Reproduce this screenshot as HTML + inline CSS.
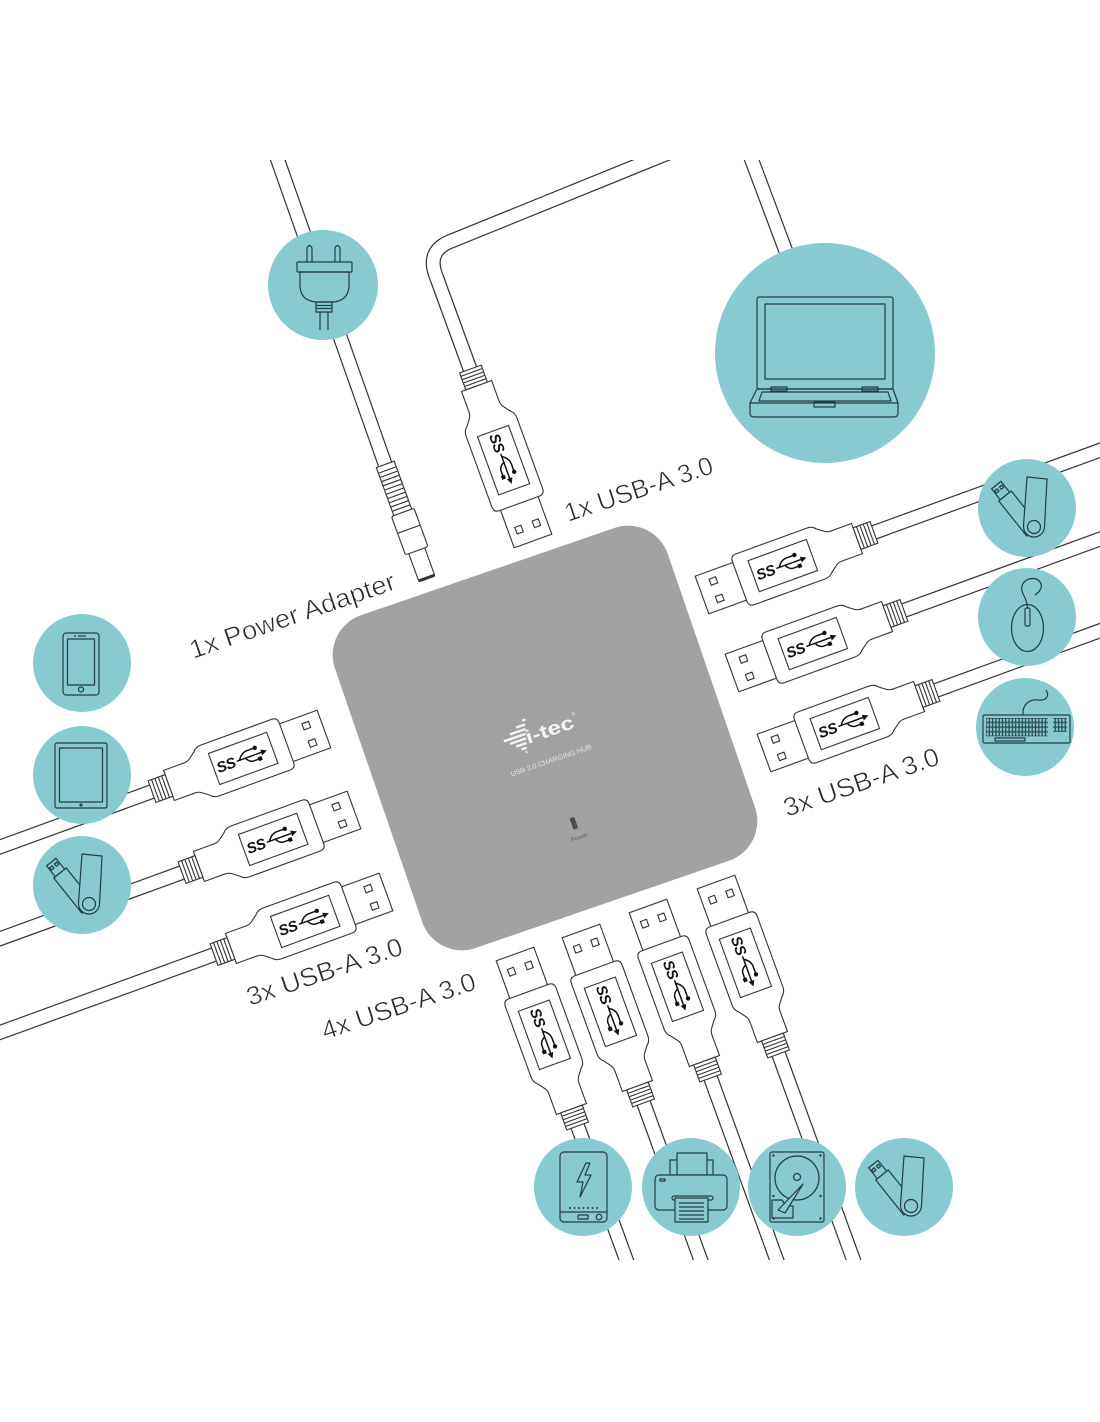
<!DOCTYPE html>
<html><head><meta charset="utf-8"><style>
html,body{margin:0;padding:0;background:#fff;}
svg{display:block;}
.lbl{font-family:"Liberation Sans",sans-serif;font-size:26px;fill:#2a2a2a;stroke:#fff;stroke-width:0.6px;}
.ss{font-family:"Liberation Sans",sans-serif;font-size:15px;font-weight:bold;font-style:italic;fill:#111;letter-spacing:-0.5px;}
</style></head><body>
<svg width="1100" height="1422" viewBox="0 0 1100 1422" xmlns="http://www.w3.org/2000/svg">
<defs>
 <clipPath id="clipc"><rect x="0" y="160" width="1100" height="1100"/></clipPath>
 <g id="plug" fill="#fff" stroke="#333" stroke-width="1.1">
   <rect x="0" y="-20" width="41" height="40"/>
   <rect x="12" y="-12.5" width="7" height="6.5"/>
   <rect x="12" y="6" width="7" height="6.5"/>
   <path d="M46,-27 H121 Q127,-27 130,-23 L136,-18.5 Q139,-16 143,-16 H165 V16 H143 Q139,16 136,18.5 L130,23 Q127,27 121,27 H46 Q40,27 40,21 V-21 Q40,-27 46,-27 Z"/>
   <rect x="55" y="-16.5" width="62" height="33"/>
   <rect x="165" y="-11.5" width="18" height="23"/>
   <path d="M168.6,-11.5V11.5M172.2,-11.5V11.5M175.8,-11.5V11.5M179.4,-11.5V11.5" fill="none"/>
 </g>
 <g id="tri">
   <path d="M-7,0.5 H20 M-4,0.5 Q0,-6 6,-6 H13 M2,0.5 Q5,6 9,6 H15" fill="none" stroke="#111" stroke-width="1.5"/>
   <circle cx="14.5" cy="-6" r="2.2" fill="#111"/>
   <rect x="14" y="4" width="4" height="4" fill="#111"/>
   <path d="M25,0.5 L19,-2.5 L19,3.5 Z" fill="#111"/>
 </g>
 <g id="dc" fill="#fff" stroke="#333" stroke-width="1.1">
   <rect x="0" y="-8.5" width="31" height="17" rx="1.5"/>
   <rect x="30" y="-12" width="41" height="24" rx="2"/>
   <path d="M53,-12 V12" fill="none"/>
   <rect x="71" y="-9.5" width="51" height="19"/>
   <path d="M75.5,-9.5V9.5M80,-9.5V9.5M84.5,-9.5V9.5M89,-9.5V9.5M93.5,-9.5V9.5M98,-9.5V9.5M102.5,-9.5V9.5M107,-9.5V9.5M111.5,-9.5V9.5M116,-9.5V9.5" fill="none"/>
   <path d="M1.2,-8.5 V8.5" stroke-width="2.6" fill="none"/>
 </g>
 <g id="flash" stroke="#213f44" stroke-width="1.2" fill="#87cbd1">
   <polygon points="-26.7,-10.25 -17.3,-17.75 -26.1,-28.65 -35.4,-21.1"/>
   <g transform="translate(-27.5,-20.5) rotate(51.3)" fill="none"><rect x="-2" y="-4.5" width="3" height="3"/><rect x="-2" y="1.5" width="3" height="3"/></g>
   <polygon points="-28.25,-9 -15.75,-19 12.25,16 -0.25,26"/>
   <path d="M0,-33 L20,-31 L17.5,17 A10.5,10.5 0 0 1 -3.5,16 Z"/>
   <circle cx="7" cy="17" r="6.5"/>
 </g>
 <pattern id="kp" x="986" y="718" width="3.3" height="4.6" patternUnits="userSpaceOnUse"><rect x="0.3" y="0.3" width="2.7" height="3.8" fill="none" stroke="#213f44" stroke-width="0.6"/></pattern>
</defs>

<rect width="1100" height="1422" fill="#fff"/>

<!-- cables -->
<g clip-path="url(#clipc)" fill="none" stroke-linejoin="round">
 <g stroke="#333" stroke-width="15">
  <path d="M470,369 L435.5,274.5 Q427,251 450,241.6 L720,132"/>
  <path d="M385,464 L276,155"/>
  <path d="M748,150 L806,305"/>
  <path d="M874,532.4 L1120,443"/>
  <path d="M904,610.4 L1120,531.8"/>
  <path d="M936,690.4 L1120,623.5"/>
  <path d="M152,791.6 L-20,854.2"/>
  <path d="M182,872.6 L-20,946"/>
  <path d="M214,954.6 L-20,1039.7"/>
  <path d="M577.6,1126 L633.6,1280"/>
  <path d="M643.6,1103 L708,1280"/>
  <path d="M710.6,1078 L784,1280"/>
  <path d="M778.6,1054 L860.8,1280"/>
 </g>
 <g stroke="#fff" stroke-width="12.6">
  <path d="M470,369 L435.5,274.5 Q427,251 450,241.6 L720,132"/>
  <path d="M385,464 L276,155"/>
  <path d="M748,150 L806,305"/>
  <path d="M874,532.4 L1120,443"/>
  <path d="M904,610.4 L1120,531.8"/>
  <path d="M936,690.4 L1120,623.5"/>
  <path d="M152,791.6 L-20,854.2"/>
  <path d="M182,872.6 L-20,946"/>
  <path d="M214,954.6 L-20,1039.7"/>
  <path d="M577.6,1126 L633.6,1280"/>
  <path d="M643.6,1103 L708,1280"/>
  <path d="M710.6,1078 L784,1280"/>
  <path d="M778.6,1054 L860.8,1280"/>
 </g>
</g>

<!-- power DC plug -->
<g transform="translate(427,579) rotate(-110)"><use href="#dc"/></g>

<!-- USB plugs -->
<g transform="translate(533,541) rotate(-110)"><use href="#plug"/><g transform="translate(86,0) rotate(180)"><text class="ss" x="-28" y="5.5">SS</text><use href="#tri"/></g></g>

<g transform="translate(702,595) rotate(-20)"><use href="#plug"/><g transform="translate(86,0)"><text class="ss" x="-28" y="5.5">SS</text><use href="#tri"/></g></g>
<g transform="translate(732,673) rotate(-20)"><use href="#plug"/><g transform="translate(86,0)"><text class="ss" x="-28" y="5.5">SS</text><use href="#tri"/></g></g>
<g transform="translate(764,753) rotate(-20)"><use href="#plug"/><g transform="translate(86,0)"><text class="ss" x="-28" y="5.5">SS</text><use href="#tri"/></g></g>

<g transform="translate(324,729) rotate(160)"><use href="#plug"/><g transform="translate(86,0) rotate(180)"><text class="ss" x="-28" y="5.5">SS</text><use href="#tri"/></g></g>
<g transform="translate(354,810) rotate(160)"><use href="#plug"/><g transform="translate(86,0) rotate(180)"><text class="ss" x="-28" y="5.5">SS</text><use href="#tri"/></g></g>
<g transform="translate(386,892) rotate(160)"><use href="#plug"/><g transform="translate(86,0) rotate(180)"><text class="ss" x="-28" y="5.5">SS</text><use href="#tri"/></g></g>

<g transform="translate(515,954) rotate(70)"><use href="#plug"/><g transform="translate(86,0)"><text class="ss" x="-28" y="5.5">SS</text><use href="#tri"/></g></g>
<g transform="translate(581,931) rotate(70)"><use href="#plug"/><g transform="translate(86,0)"><text class="ss" x="-28" y="5.5">SS</text><use href="#tri"/></g></g>
<g transform="translate(648,906) rotate(70)"><use href="#plug"/><g transform="translate(86,0)"><text class="ss" x="-28" y="5.5">SS</text><use href="#tri"/></g></g>
<g transform="translate(716,882) rotate(70)"><use href="#plug"/><g transform="translate(86,0)"><text class="ss" x="-28" y="5.5">SS</text><use href="#tri"/></g></g>

<!-- hub -->
<g transform="translate(545,738) rotate(-19)">
 <rect x="-176" y="-176" width="352" height="352" rx="42" fill="#a2a2a2"/>
 <g fill="#f2f2f2">
  <rect x="-16" y="-25" width="3.5" height="2.2"/>
  <rect x="-24" y="-20.5" width="9.5" height="2.4"/>
  <rect x="-32" y="-16" width="16.5" height="2.4"/>
  <rect x="-40" y="-11.5" width="23" height="2.5"/>
  <rect x="-35" y="-7" width="17" height="2.4"/>
  <rect x="-30" y="-2.5" width="11" height="2.4"/>
  <rect x="-26" y="2" width="5.5" height="2.3"/>
  <rect x="-23" y="6.3" width="1.8" height="2"/>
 </g>
 <text x="-18" y="0" font-family="'Liberation Sans',sans-serif" font-size="19" font-weight="bold" fill="#f4f4f4" textLength="50" lengthAdjust="spacingAndGlyphs">i-tec</text>
 <text x="33" y="-12" font-family="'Liberation Sans',sans-serif" font-size="5" fill="#eee">®</text>
 <text x="-44" y="25.5" font-family="'Liberation Sans',sans-serif" font-size="7" fill="#e4e4e4" textLength="85" lengthAdjust="spacingAndGlyphs">USB 3.0 CHARGING HUB</text>
 <rect x="-3" y="84" width="5" height="12" rx="1.5" fill="#4d4d4d"/>
 <text x="0" y="107" font-family="'Liberation Sans',sans-serif" font-size="6" fill="#5e5e5e" text-anchor="middle">Power</text>
</g>

<!-- circles -->
<g fill="#87cbd1">
 <circle cx="323" cy="285" r="55"/>
 <circle cx="825" cy="353" r="110"/>
 <circle cx="1027" cy="508" r="49"/>
 <circle cx="1027" cy="617" r="49"/>
 <circle cx="1025" cy="727" r="49"/>
 <circle cx="82" cy="663" r="49"/>
 <circle cx="82" cy="775" r="49"/>
 <circle cx="82" cy="885" r="49"/>
 <circle cx="583" cy="1187" r="49"/>
 <circle cx="691" cy="1187" r="49"/>
 <circle cx="797" cy="1187" r="49"/>
 <circle cx="904" cy="1187" r="49"/>
</g>

<!-- icons -->
<g stroke="#213f44" stroke-width="1.2" fill="none" stroke-linejoin="round">
 <!-- power plug -->
 <path d="M307,262 L307,248 Q309.5,243 312,248 L312,262"/>
 <path d="M335,262 L335,248 Q337.5,243 340,248 L340,262"/>
 <rect x="297" y="262" width="55" height="10" rx="1"/>
 <path d="M300,272 L349,272 L349,285 Q349,300 334,302 L315,302 Q300,300 300,285 Z"/>
 <rect x="316" y="302" width="16" height="10"/>
 <path d="M316,305.5 H332 M316,308.5 H332"/>
 <path d="M320,312 V330 M328,312 V330"/>

 <!-- laptop -->
 <rect x="757" y="297" width="136" height="92" rx="2"/>
 <rect x="765" y="304" width="120" height="75"/>
 <path d="M757,389 L893,389 L898,403 L898,413 Q898,417 894,417 L754,417 Q750,417 750,413 L750,403 Z"/>
 <path d="M750,403 H898"/>
 <path d="M762,392 L888,392 L891,401 L759,401 Z"/>
 <rect x="814" y="402" width="21" height="5"/>
 <rect x="771" y="387" width="16" height="4"/>
 <rect x="862" y="387" width="16" height="4"/>

 <!-- mouse -->
 <ellipse cx="1027.5" cy="628" rx="16" ry="23.5"/>
 <rect x="1025" y="608" width="5" height="18" rx="1.5"/>
 <path d="M1027.5,608 C1027,597 1020,593 1022,586 C1024,578 1036,576 1040,582 C1044,588 1038,593 1035,595"/>

 <!-- keyboard -->
 <rect x="983" y="715" width="87" height="28" rx="1.5"/>
 <rect x="986" y="718" width="62" height="18.4" fill="url(#kp)" stroke="none"/>
 <rect x="995" y="738" width="30" height="3"/>
 <rect x="1053" y="718" width="14" height="14" fill="url(#kp)" stroke="none"/>
 <path d="M1023,715 C1022,704 1030,699 1038,700 C1046,701 1050,696 1046,690"/>

 <!-- phone -->
 <rect x="63" y="633" width="36" height="62" rx="3"/>
 <rect x="67.5" y="639" width="27" height="46"/>
 <circle cx="81" cy="689.5" r="2.5"/>
 <path d="M78,636 H86"/>
 <!-- tablet -->
 <rect x="55" y="743" width="52" height="65" rx="2"/>
 <rect x="59.5" y="748" width="43" height="54"/>
 <circle cx="81" cy="805" r="1"/>

 <!-- powerbank -->
 <rect x="560" y="1152" width="47" height="70" rx="4"/>
 <path d="M560,1212 H607"/>
 <rect x="578" y="1215" width="10" height="4"/>
 <circle cx="599" cy="1217" r="2.8"/>
 <path d="M586,1163 L577,1182 L583,1182 L580,1197 L591,1175 L585,1175 L590,1163 Z"/>

 <!-- printer -->
 <rect x="670" y="1160" width="43" height="15"/>
 <rect x="677" y="1153" width="30" height="22" fill="#87cbd1"/>
 <rect x="655" y="1175" width="72" height="35" rx="4" fill="#87cbd1"/>
 <rect x="660" y="1179" width="5" height="2"/>
 <rect x="672" y="1196" width="41" height="4" rx="2"/>
 <rect x="675" y="1198" width="33" height="24" fill="#87cbd1"/>
 <path d="M679,1203 H704 M679,1207 H704 M679,1211 H704 M679,1215 H704 M679,1219 H704"/>

 <!-- hdd -->
 <rect x="770" y="1152" width="54" height="70" rx="2"/>
 <circle cx="797" cy="1178" r="22"/>
 <circle cx="797" cy="1177" r="3.5"/>
 <path d="M772,1200 H782 L786,1206 H793 V1218 H772 Z" fill="#87cbd1"/>
 <path d="M778,1210 L803,1184 L785,1213 Z" fill="#87cbd1"/>
</g>
<g fill="#213f44">
 <circle cx="773.5" cy="1155.5" r="1.2"/><circle cx="820.5" cy="1155.5" r="1.2"/>
 <circle cx="773.5" cy="1196" r="1.2"/><circle cx="820.5" cy="1196" r="1.2"/>
 <circle cx="773.5" cy="1218.5" r="1.2"/><circle cx="820.5" cy="1218.5" r="1.2"/>
 <circle cx="75" cy="636" r="0.9"/>
 <circle cx="570" cy="1208" r="1"/><circle cx="574.5" cy="1208" r="1"/><circle cx="579" cy="1208" r="1"/><circle cx="583.5" cy="1208" r="1"/><circle cx="588" cy="1208" r="1"/><circle cx="592.5" cy="1208" r="1"/><circle cx="597" cy="1208" r="1"/>
</g>
<use href="#flash" transform="translate(1027,510)"/>
<use href="#flash" transform="translate(82,887)"/>
<use href="#flash" transform="translate(904,1189)"/>

<!-- labels -->
<text class="lbl" transform="translate(568,522) rotate(-18.5)" textLength="155" lengthAdjust="spacingAndGlyphs">1x USB-A 3.0</text>
<text class="lbl" transform="translate(193,659) rotate(-19)" textLength="216" lengthAdjust="spacingAndGlyphs">1x Power Adapter</text>
<text class="lbl" transform="translate(787,817) rotate(-19)" textLength="163" lengthAdjust="spacingAndGlyphs">3x USB-A 3.0</text>
<text class="lbl" transform="translate(250,1006) rotate(-18.6)" textLength="163" lengthAdjust="spacingAndGlyphs">3x USB-A 3.0</text>
<text class="lbl" transform="translate(325,1040) rotate(-18.5)" textLength="161" lengthAdjust="spacingAndGlyphs">4x USB-A 3.0</text>
</svg>
</body></html>
